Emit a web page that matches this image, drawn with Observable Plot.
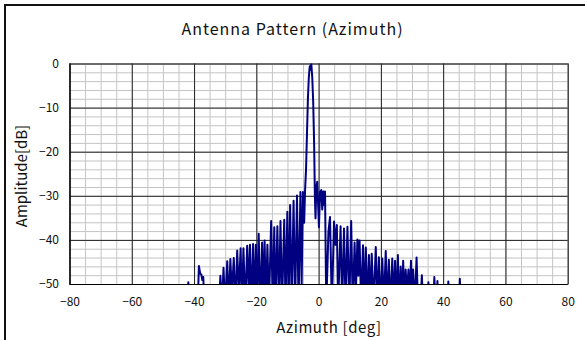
<!DOCTYPE html>
<html>
<head>
<meta charset="utf-8">
<script src="https://cdn.jsdelivr.net/npm/d3@7"></script>
<script src="https://cdn.jsdelivr.net/npm/@observablehq/plot@0.6"></script>
<style>
  html, body { margin: 0; padding: 0; background: #fff; }
  #wrap { position: relative; width: 585px; height: 340px; overflow: hidden; font-family: "Noto Sans CJK JP", "Noto Sans", sans-serif; color: #000; }
  #wrap svg { position: absolute; left: 0; top: 0; }
  .lbl { position: absolute; white-space: nowrap; font-size: 15px; line-height: 15px; color: #111; }
  .frame { position: absolute; background: #111; }
</style>
</head>
<body>
<div id="wrap"></div>
<script>
// ---- data ----
const title = "Antenna Pattern (Azimuth)";
const xLabel = "Azimuth [deg]";
const yLabel = "Amplitude[dB]";

const xTicks = [-80, -60, -40, -20, 0, 20, 40, 60, 80];
const yTicks = [0, -10, -20, -30, -40, -50];
const xMinor = d3.range(-80, 81, 5);
const yMinor = d3.range(-50, 1, 2);

const azimuth = [
  -45, -42.3, -42.0, -41.7, -39.0, -38.6, -38.2, -37.8, -37.5, -37.2, -36.8,
  -32.2, -31.7, -31.2, -30.7, -30.2, -29.5, -29.0, -28.5, -28.0, -27.4, -26.9,
  -26.3, -25.8, -25.2, -24.8, -24.3, -23.7, -23.1, -22.6, -22.2, -21.7, -21.2,
  -20.8, -20.3, -19.9, -19.4, -18.9, -18.3, -17.9, -17.5, -17.1, -16.6, -16.1,
  -15.4, -14.9, -14.4, -14.0, -13.4, -12.9, -12.4, -11.9, -11.2, -10.8, -10.2,
  -9.8, -9.3, -8.8, -8.2, -7.7, -7.1, -6.6, -6.0, -5.6, -5.2, -4.8, -4.5,
  -4.2, -3.9, -3.6, -3.3, -3.0, -2.8, -2.5, -2.2, -1.9, -1.6, -1.35, -1.15,
  -0.9, -0.6, -0.3, -0.05, 0.3, 0.7, 1.0, 1.35, 1.6, 1.9, 2.3, 3.0, 3.5, 4.1,
  4.8, 5.2, 5.7, 6.1, 6.9, 7.4, 8.0, 8.5, 9.1, 9.7, 10.3, 10.8, 11.4, 11.8,
  12.3, 12.6, 13.0, 13.5, 14.1, 14.5, 15.0, 15.5, 16.0, 16.4, 16.9, 17.5,
  18.2, 18.7, 19.2, 19.7, 20.3, 20.8, 21.4, 21.9, 22.4, 22.9, 23.5, 23.9,
  24.4, 24.8, 25.3, 25.7, 26.2, 26.6, 27.0, 27.4, 27.8, 28.2, 28.7, 29.1,
  29.5, 29.9, 30.2, 30.7, 31.3, 31.8, 32.5, 33.0, 33.4, 34.8, 35.1, 35.4,
  36.7, 37.0, 37.5, 37.8, 38.0, 38.3, 41.2, 41.5, 41.8, 44.9, 45.2, 45.5, 48
];
const amplitude = [
  -55, -55, -49.5, -55, -55, -45.8, -47.5, -47.8, -49, -48.3, -55,
  -55, -48, -55, -46.2, -55, -44.7, -55, -44.2, -52, -44, -55,
  -42.3, -52, -41.8, -55, -41.8, -55, -41.2, -52, -41, -55, -40.8,
  -55, -41, -55, -38.5, -55, -40.5, -55, -40, -55, -41, -55,
  -35.6, -55, -37, -55, -36.8, -55, -35.6, -55, -35.3, -55, -33.5,
  -55, -32, -55, -31, -55, -29.8, -55, -29, -50, -29, -36, -28.5,
  -24, -16, -8, -3, -0.5, -1.3, 0, -3, -8.5, -18, -30, -35,
  -28, -26.7, -32, -37, -29, -28.6, -33, -28.9, -32, -28.9, -55, -38, -34.7, -55,
  -35.7, -41, -36.5, -55, -36.8, -55, -37.3, -55, -36.9, -55, -35.6, -55, -40.5, -52,
  -39.8, -48, -40, -55, -41.1, -55, -41.6, -55, -43.3, -55, -43, -55,
  -41.5, -55, -43.8, -55, -44.1, -55, -42.4, -55, -44.4, -55, -44.1, -55,
  -44.6, -55, -43.3, -55, -45.9, -55, -44.6, -55, -46.6, -52, -46.6, -55,
  -44.6, -55, -46.6, -55, -43.9, -55, -55, -47.9, -55, -55, -49.5, -55,
  -55, -48.3, -55, -55, -49.2, -55, -55, -49.3, -55, -55, -48.7, -55, -55
];

// ---- chart ----
const idx = d3.range(azimuth.length);
const chart = Plot.plot({
  width: 585,
  height: 340,
  marginLeft: 69.5,
  marginRight: 17.3,
  marginTop: 63.5,
  marginBottom: 56,
  style: { background: "transparent", fontFamily: "'Noto Sans CJK JP', 'Noto Sans', sans-serif", fontSize: "12px", color: "#111" },
  x: { domain: [-80, 80] },
  y: { domain: [-50, 0] },
  marks: [
    Plot.ruleX(xMinor, { stroke: "#c4c4c4", strokeWidth: 1 }),
    Plot.ruleY(yMinor, { stroke: "#c4c4c4", strokeWidth: 1 }),
    Plot.frame({ stroke: "#888" }),
    Plot.ruleX(xTicks, { stroke: "#222", strokeWidth: 1 }),
    Plot.ruleY(yTicks, { stroke: "#222", strokeWidth: 1 }),
    Plot.line(idx, { x: i => azimuth[i], y: i => amplitude[i], stroke: "#000080", strokeWidth: 2, clip: true }),
    Plot.ruleX([-80], { stroke: "#000", strokeWidth: 1.2 }),
    Plot.ruleY([-50], { stroke: "#000", strokeWidth: 1.2 }),
    Plot.axisX(xTicks, { tickSize: 0, tickPadding: 13, label: null, fontSize: 12 }),
    Plot.axisY(yTicks, { tickSize: 0, tickPadding: 11, label: null, fontSize: 12 })
  ]
});

const wrap = document.getElementById("wrap");
wrap.appendChild(chart);

function addDiv(cls, css, text) {
  const d = document.createElement("div");
  d.className = cls;
  Object.assign(d.style, css);
  if (text != null) d.textContent = text;
  wrap.appendChild(d);
  return d;
}
addDiv("frame", { left: "4px", top: "4px", width: "2px", height: "340px" });
addDiv("frame", { left: "4px", top: "4px", width: "585px", height: "2px" });
addDiv("lbl", { left: "0px", width: "585px", textAlign: "center", top: "20px", fontSize: "16px", lineHeight: "16px", letterSpacing: "1px" }, title);
addDiv("lbl", { left: "329px", top: "326px", transform: "translate(-50%,-50%)", letterSpacing: "0.6px" }, xLabel);
addDiv("lbl", { left: "20px", top: "176px", transform: "translate(-50%,-50%) rotate(-90deg)" }, yLabel);
</script>
</body>
</html>
